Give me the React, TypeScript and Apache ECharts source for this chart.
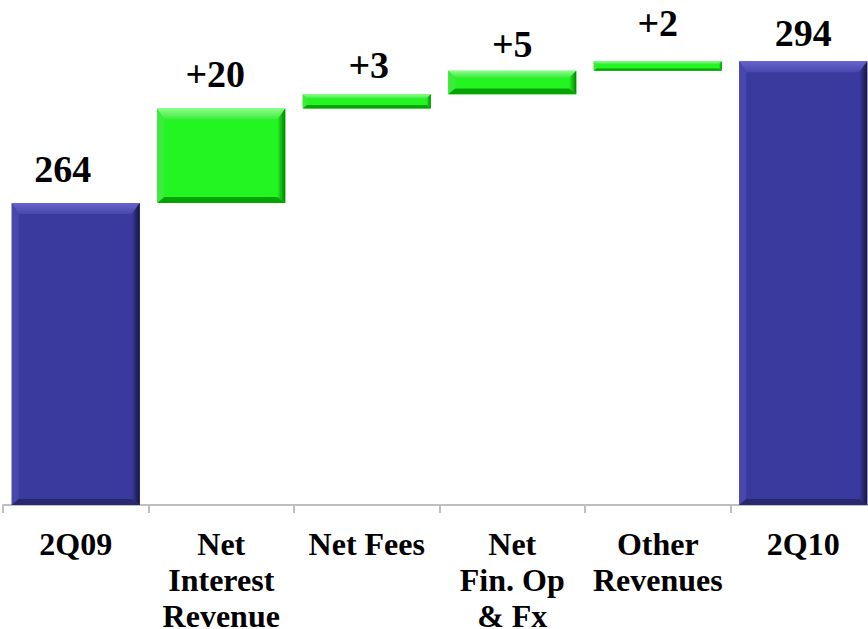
import React, { useEffect, useRef } from "react";
import * as echarts from "echarts";

const categories = ["2Q09", "Net\nInterest\nRevenue", "Net Fees", "Net\nFin. Op\n& Fx", "Other\nRevenues", "2Q10"];
const startValue = 264;
const deltas = [20, 3, 5, 2];
const endValue = 294;
const valueLabels = ["264", "+20", "+3", "+5", "+2", "294"];
const axisMin = 200;
const axisMax = 300;
// label placement tweaks (px): gap from bar top to text baseline, horizontal nudge
const labelBaselineGaps = [18, 18, 13, 10, 22, 12];
const labelNudgeX = [-13, -6, 2, 0, 0, 0];

const FONT = "'Liberation Serif', 'Times New Roman', serif";
const VALUE_FS = 38;

function buildSegments() {
  const segs: number[][] = [];
  segs.push([0, axisMin, startValue, 0]);
  let run = startValue;
  deltas.forEach((d, i) => {
    segs.push([i + 1, run, run + d, 1]);
    run += d;
  });
  segs.push([deltas.length + 1, axisMin, endValue, 0]);
  return segs;
}

const palettes: any = {
  0: { face: "#3A3A9E", top: "#6565CC", left: "#4747AD", right: "#16163F", bottom: "#28286F" },
  1: { face: "#22F522", top: "#8CFF8C", left: "#3CEB3C", right: "#037F03", bottom: "#06A306" },
};

export default function App() {
  const ref = useRef<HTMLDivElement>(null);
  useEffect(() => {
    if (!ref.current) return;
    const chart = echarts.init(ref.current, null, { renderer: "svg" });
    const data = buildSegments();
    chart.setOption({
      animation: false,
      textStyle: { fontFamily: FONT },
      grid: { left: 3, right: -8, top: 33, height: 472, outerBoundsMode: "none", containLabel: false },
      xAxis: {
        type: "category",
        data: categories,
        axisLine: { show: true, lineStyle: { color: "#BFBFBF", width: 2 } },
        axisTick: { show: true, length: 8, lineStyle: { color: "#BFBFBF", width: 2 } },
        axisLabel: {
          interval: 0,
          color: "#000",
          fontFamily: FONT,
          fontWeight: "bold",
          fontSize: 32,
          lineHeight: 36,
          margin: 21,
        },
        splitLine: { show: false },
      },
      yAxis: { type: "value", min: axisMin, max: axisMax, show: false, splitLine: { show: false } },
      series: [
        {
          type: "custom",
          clip: false,
          data,
          renderItem: (params: any, api: any) => {
            const i = params.dataIndex;
            const idx = api.value(0);
            const low = api.value(1);
            const high = api.value(2);
            const kind = api.value(3);
            const pHigh = api.coord([idx, high]);
            const pLow = api.coord([idx, low]);
            const w = api.size([1, 0])[0] * 0.88;
            const x = pHigh[0] - w / 2;
            const y = pHigh[1];
            const h = pLow[1] - pHigh[1];
            const pal = palettes[kind];
            const bt = Math.min(11, h * 0.3);
            const bb = Math.min(6, h * 0.25);
            const bl = Math.min(7, h * 0.3);
            const br = Math.min(8, h * 0.3);
            const x2 = x + w;
            const y2 = y + h;
            return {
              type: "group",
              children: [
                { type: "rect", shape: { x, y, width: w, height: h }, style: { fill: pal.face } },
                {
                  type: "polygon",
                  shape: { points: [[x, y], [x2, y], [x2 - br, y + bt], [x + bl, y + bt]] },
                  style: {
                    fill: new echarts.graphic.LinearGradient(0, 0, 0, 1, [
                      { offset: 0, color: pal.top },
                      { offset: 1, color: pal.left },
                    ]),
                  },
                },
                { type: "polygon", shape: { points: [[x, y], [x + bl, y + bt], [x + bl, y2 - bb], [x, y2]] }, style: { fill: pal.left } },
                {
                  type: "polygon",
                  shape: { points: [[x2, y], [x2, y2], [x2 - br, y2 - bb], [x2 - br, y + bt]] },
                  style: {
                    fill: new echarts.graphic.LinearGradient(0, 0, 1, 0, [
                      { offset: 0, color: pal.face },
                      { offset: 1, color: pal.right },
                    ]),
                  },
                },
                { type: "polygon", shape: { points: [[x, y2], [x + bl, y2 - bb], [x2 - br, y2 - bb], [x2, y2]] }, style: { fill: pal.bottom } },
                {
                  type: "text",
                  x: pHigh[0] + labelNudgeX[i],
                  y: y - (labelBaselineGaps[i] - 0.07 * VALUE_FS),
                  style: {
                    text: valueLabels[i],
                    fill: "#000",
                    fontFamily: FONT,
                    fontWeight: "bold",
                    fontSize: VALUE_FS,
                    align: "center",
                    verticalAlign: "bottom",
                  },
                },
              ],
            };
          },
        },
      ],
    });
    return () => chart.dispose();
  }, []);
  return <div ref={ref} style={{ position: "fixed", left: 0, top: 0, width: 868, height: 629, background: "#fff" }} />;
}
